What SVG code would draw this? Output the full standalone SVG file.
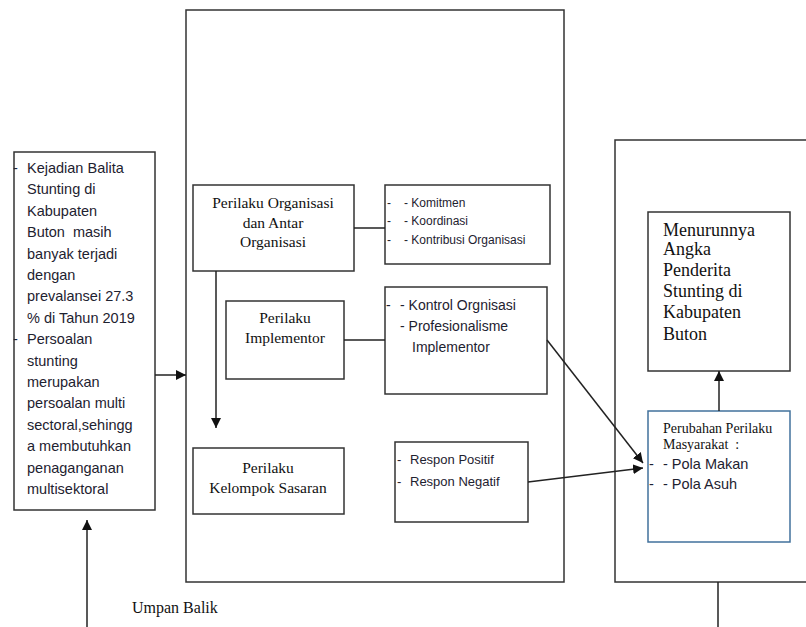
<svg xmlns="http://www.w3.org/2000/svg" width="806" height="627" viewBox="0 0 806 627">
<style>
.box{fill:#fff;stroke:#333;stroke-width:1.5}
.blue{fill:#fff;stroke:#41719C;stroke-width:1.5}
.ln{fill:none;stroke:#222;stroke-width:1.5}
.sans{font-family:"Liberation Sans",Arial,sans-serif;fill:#1e2230}
.serif{font-family:"Liberation Serif","Times New Roman",serif;fill:#111}
.mid{text-anchor:middle}
</style>
<defs>
<marker id="ab" viewBox="0 0 10 10" refX="10" refY="5" markerWidth="10" markerHeight="10" markerUnits="userSpaceOnUse" orient="auto">
<path d="M0,0 L10,5 L0,10 Z" fill="#111"/>
</marker>
</defs>

<g id="frame-middle"><rect class="box" x="186" y="10" width="378" height="572"/></g>
<g id="frame-right"><rect class="box" x="615" y="140" width="200" height="442"/></g>

<g id="node-masalah">
<rect class="box" x="14" y="152" width="141" height="358"/>
<g class="sans" font-size="14.5">
<text x="13" y="173">-</text>
<text x="27" y="173">Kejadian Balita</text>
<text x="27" y="194.4">Stunting di</text>
<text x="27" y="215.8">Kabupaten</text>
<text x="27" y="237.2" xml:space="preserve">Buton  masih</text>
<text x="27" y="258.6">banyak terjadi</text>
<text x="27" y="280">dengan</text>
<text x="27" y="301.4">prevalansei 27.3</text>
<text x="27" y="322.8">% di Tahun 2019</text>
<text x="13" y="344.2">-</text>
<text x="27" y="344.2">Persoalan</text>
<text x="27" y="365.6">stunting</text>
<text x="27" y="387">merupakan</text>
<text x="27" y="408.4">persoalan multi</text>
<text x="27" y="429.8">sectoral,sehingg</text>
<text x="27" y="451.2">a membutuhkan</text>
<text x="27" y="472.6">penaganganan</text>
<text x="27" y="494">multisektoral</text>
</g>
</g>

<g id="node-org">
<rect class="box" x="193" y="185" width="161" height="86"/>
<g class="serif mid" font-size="15.5">
<text x="273" y="208">Perilaku Organisasi</text>
<text x="273" y="228">dan Antar</text>
<text x="273" y="247">Organisasi</text>
</g>
</g>

<g id="node-komitmen">
<rect class="box" x="385" y="185" width="165" height="79"/>
<g class="sans" font-size="12">
<text x="387" y="207">-</text><text x="404" y="207">- Komitmen</text>
<text x="387" y="225">-</text><text x="404" y="225">- Koordinasi</text>
<text x="387" y="244">-</text><text x="404" y="244">- Kontribusi Organisasi</text>
</g>
</g>

<g id="node-implementor">
<rect class="box" x="226" y="301" width="118" height="78"/>
<g class="serif mid" font-size="15.5">
<text x="285" y="323">Perilaku</text>
<text x="285" y="343">Implementor</text>
</g>
</g>

<g id="node-kontrol">
<rect class="box" x="385" y="287" width="162" height="107"/>
<g class="sans" font-size="14">
<text x="386" y="310">-</text><text x="400" y="310">- Kontrol Orgnisasi</text>
<text x="400" y="331">- Profesionalisme</text>
<text x="412" y="352">Implementor</text>
</g>
</g>

<g id="node-sasaran">
<rect class="box" x="193" y="448" width="151" height="66"/>
<g class="serif mid" font-size="15.5">
<text x="268" y="473">Perilaku</text>
<text x="268" y="493">Kelompok Sasaran</text>
</g>
</g>

<g id="node-respon">
<rect class="box" x="395" y="442" width="133" height="80"/>
<g class="sans" font-size="13">
<text x="397" y="464">-</text><text x="410" y="464">Respon Positif</text>
<text x="397" y="486">-</text><text x="410" y="486">Respon Negatif</text>
</g>
</g>

<g id="node-menurunnya">
<rect class="box" x="648" y="212" width="142" height="159"/>
<g class="serif" font-size="18">
<text x="663" y="236">Menurunnya</text>
<text x="663" y="255">Angka</text>
<text x="663" y="276">Penderita</text>
<text x="663" y="297">Stunting di</text>
<text x="663" y="318">Kabupaten</text>
<text x="663" y="340">Buton</text>
</g>
</g>

<g id="node-perubahan">
<rect class="blue" x="648" y="411" width="142" height="131"/>
<g class="serif" font-size="14">
<text x="663" y="433">Perubahan Perilaku</text>
<text x="663" y="449" xml:space="preserve">Masyarakat  :</text>
</g>
<g class="sans" font-size="14.5">
<text x="649" y="469">-</text><text x="663" y="469">- Pola Makan</text>
<text x="649" y="489">-</text><text x="663" y="489">- Pola Asuh</text>
</g>
</g>

<g id="label-umpan"><text class="serif" font-size="16" x="132" y="613">Umpan Balik</text></g>

<g id="connectors">
<line class="ln" x1="155" y1="375" x2="186" y2="375" marker-end="url(#ab)"/>
<line class="ln" x1="354" y1="228" x2="385" y2="228"/>
<line class="ln" x1="344" y1="340" x2="385" y2="340"/>
<line class="ln" x1="216" y1="271" x2="216" y2="428" marker-end="url(#ab)"/>
<line class="ln" x1="547" y1="340" x2="643" y2="463" marker-end="url(#ab)"/>
<line class="ln" x1="528" y1="482" x2="643" y2="468" marker-end="url(#ab)"/>
<line class="ln" x1="719" y1="411" x2="719" y2="371" marker-end="url(#ab)"/>
<line class="ln" x1="718" y1="582" x2="718" y2="627"/>
<line class="ln" x1="87" y1="627" x2="87" y2="520" marker-end="url(#ab)"/>
</g>
</svg>
